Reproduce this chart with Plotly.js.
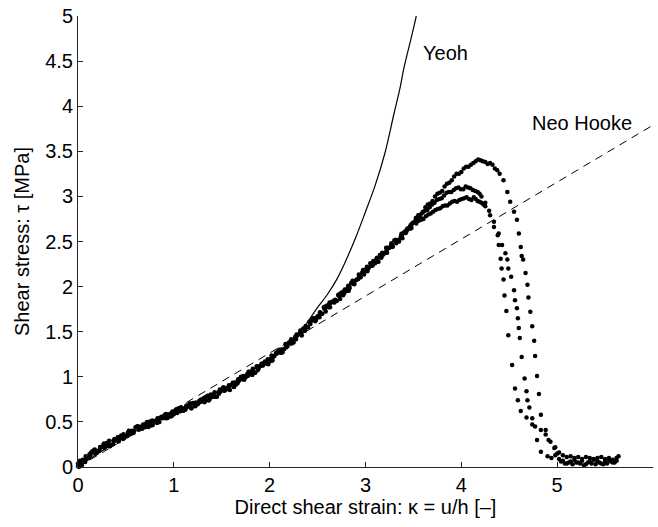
<!DOCTYPE html>
<html>
<head>
<meta charset="utf-8">
<script src="https://cdn.plot.ly/plotly-3.0.1.min.js"></script>
<style>html,body{margin:0;padding:0;background:#fff;}#chart{width:658px;height:527px;}</style>
</head>
<body>
<div id="chart"></div>
<script>
// Test 1 (highest peak)
var testA_kappa = [0.00,0.05,0.10,0.15,0.20,0.25,0.30,0.35,0.40,0.45,0.50,0.55,0.60,0.65,0.70,0.75,0.80,0.85,0.90,0.95,1.00,1.05,1.10,1.15,1.20,1.25,1.30,1.35,1.40,1.45,1.50,1.55,1.60,1.65,1.70,1.75,1.80,1.85,1.90,1.95,2.00,2.05,2.10,2.15,2.20,2.25,2.30,2.35,2.40,2.45,2.50,2.55,2.60,2.65,2.70,2.75,2.80,2.85,2.90,2.95,3.00,3.05,3.10,3.15,3.20,3.25,3.30,3.35,3.40,3.45,
  3.50,3.55,3.60,3.65,3.70,3.75,3.80,3.85,3.90,3.95,4.00,4.05,4.10,4.15,4.20,4.25,4.30,4.35,4.40,
  4.44,4.48,4.51,4.55,4.58,4.60,4.62,4.63,4.645,4.67,4.69,4.70,4.72,4.74,4.76,4.77,4.79,4.81,4.83,4.88,4.91,4.98,
  5.02,5.06,5.10,5.14,5.18,5.22,5.26,5.30,5.34,5.38,5.42,5.46,5.50,5.54,5.58,5.62,5.64,
  0.025,0.075,0.125,0.175,0.225,0.275,0.325,0.375,0.425,0.475,0.525,0.575,0.625,0.675,0.725,0.775,0.825,0.875,0.925,0.975,1.025,1.075,1.125,1.175,1.225,1.275,1.325,1.375,1.425,1.475,1.525,1.575,1.625,1.675,1.725,1.775,1.825,1.875,1.925,1.975,2.025,2.075,2.125,2.175,2.225,2.275,2.325,2.375,2.425,2.475,2.525,2.575,2.625,2.675,2.725,2.775,2.825,2.875,2.925,2.975,3.025,3.075,3.125,3.175,3.225,3.275,3.325,3.375,3.425,3.475,
  3.525,3.575,3.625,3.675,3.725,3.775,3.825,3.875,3.925,3.975,4.025,4.075,4.125,4.175,4.225,4.275,4.325,4.375];
var testA_tau = [0.01,0.08,0.10,0.175,0.16,0.225,0.265,0.245,0.30,0.35,0.345,0.365,0.44,0.445,0.44,0.505,0.505,0.50,0.57,0.585,0.585,0.65,0.625,0.67,0.71,0.695,0.75,0.79,0.775,0.78,0.86,0.87,0.91,0.915,1.00,0.995,1.06,1.045,1.12,1.17,1.17,1.23,1.30,1.305,1.38,1.38,1.47,1.535,1.55,1.65,1.67,1.70,1.79,1.83,1.84,1.935,1.95,2.04,2.07,2.105,2.19,2.26,2.26,2.35,2.37,2.43,2.51,2.50,2.60,2.65,
  2.71,2.79,2.83,2.91,2.95,3.03,3.06,3.14,3.18,3.25,3.27,3.33,3.35,3.39,3.40,3.38,3.37,3.31,3.25,
  3.18,3.05,2.94,2.83,2.74,2.59,2.44,2.34,2.30,2.15,2.02,1.88,1.72,1.56,1.40,1.23,1.01,0.81,0.58,0.41,0.30,0.22,
  0.16,0.13,0.11,0.12,0.10,0.11,0.09,0.11,0.10,0.08,0.10,0.11,0.09,0.10,0.08,0.10,0.12,
  0.05,0.055,0.138,0.193,0.188,0.21,0.29,0.288,0.285,0.363,0.38,0.378,0.453,0.438,0.473,0.515,0.488,0.55,0.583,0.565,0.608,0.663,0.648,0.70,0.673,0.738,0.75,0.753,0.828,0.835,0.845,0.905,0.888,0.953,1.008,1.013,1.088,1.073,1.14,1.17,1.18,1.27,1.303,1.328,1.415,1.415,1.488,1.563,1.585,1.615,1.715,1.755,1.825,1.825,1.893,1.948,1.955,2.06,2.088,2.183,2.205,2.235,2.315,2.375,2.375,2.465,2.495,2.585,2.61,2.68,
  2.76,2.80,2.88,2.92,3.00,3.04,3.11,3.15,3.22,3.25,3.31,3.33,3.37,3.41,3.39,3.36,3.35,3.29];

// Test 2 (middle peak)
var testB_kappa = [0.02,0.07,0.12,0.17,0.22,0.27,0.32,0.37,0.42,0.47,0.52,0.57,0.62,0.67,0.72,0.77,0.82,0.87,0.92,0.97,1.02,1.07,1.12,1.17,1.22,1.27,1.32,1.37,1.42,1.47,1.52,1.57,1.62,1.67,1.72,1.77,1.82,1.87,1.92,1.97,2.02,2.07,2.12,2.17,2.22,2.27,2.32,2.37,2.42,2.47,2.52,2.57,2.62,2.67,2.72,2.77,2.82,2.87,2.92,2.97,3.02,3.07,3.12,3.17,3.22,3.27,3.32,3.37,3.42,3.47,
  3.52,3.57,3.62,3.67,3.72,3.77,3.82,3.87,3.92,3.97,4.02,4.07,4.12,4.17,4.21,4.25,4.29,4.34,4.39,4.425,4.46,4.48,4.49,4.52,4.55,4.56,4.58,4.59,4.60,4.61,4.63,4.66,4.68,4.69,4.71,4.74,4.77,4.83,4.88,4.93,4.97,5.00,
  5.04,5.08,5.12,5.16,5.20,5.24,5.28,5.32,5.36,5.40,5.44,5.48,5.52,5.56,5.60,
  0.035,0.085,0.135,0.185,0.235,0.285,0.335,0.385,0.435,0.485,0.535,0.585,0.635,0.685,0.735,0.785,0.835,0.885,0.935,0.985,1.035,1.085,1.135,1.185,1.235,1.285,1.335,1.385,1.435,1.485,1.535,1.585,1.635,1.685,1.735,1.785,1.835,1.885,1.935,1.985,2.035,2.085,2.135,2.185,2.235,2.285,2.335,2.385,2.435,2.485,2.535,2.585,2.635,2.685,2.735,2.785,2.835,2.885,2.935,2.985,3.035,3.085,3.135,3.185,3.235,3.285,3.335,3.385,3.435,3.485,
  3.545,3.595,3.645,3.695,3.745,3.795,3.845,3.895,3.945,3.995,4.045,4.095,4.145,4.19];
var testB_tau = [0.03,0.06,0.14,0.16,0.18,0.26,0.24,0.295,0.33,0.31,0.38,0.395,0.44,0.425,0.50,0.483,0.515,0.558,0.54,0.593,0.635,0.62,0.635,0.698,0.70,0.735,0.718,0.79,0.805,0.812,0.882,0.862,0.914,0.969,0.974,1.029,1.024,1.109,1.126,1.146,1.236,1.256,1.268,1.333,1.40,1.42,1.512,1.517,1.60,1.64,1.66,1.76,1.80,1.83,1.908,1.913,2.01,2.034,2.082,2.167,2.17,2.26,2.32,2.34,2.40,2.48,2.48,2.56,2.594,2.68,
  2.73,2.78,2.84,2.88,2.93,2.97,3.01,3.05,3.07,3.10,3.08,3.10,3.07,3.05,3.00,2.93,2.84,2.72,2.59,2.46,2.37,2.30,2.20,2.11,1.96,1.85,1.76,1.65,1.54,1.43,1.22,0.98,0.84,0.74,0.66,0.54,0.45,0.41,0.36,0.28,0.21,0.15,
  0.06,0.04,0.05,0.03,0.05,0.04,0.02,0.05,0.04,0.03,0.05,0.03,0.04,0.06,0.05,
  0.02,0.095,0.158,0.153,0.218,0.23,0.23,0.308,0.325,0.323,0.40,0.398,0.413,0.468,0.443,0.505,0.538,0.54,0.543,0.615,0.598,0.643,0.678,0.65,0.703,0.748,0.74,0.803,0.778,0.835,0.855,0.855,0.938,0.963,0.968,1.053,1.048,1.093,1.15,1.14,1.22,1.28,1.273,1.338,1.395,1.455,1.458,1.553,1.625,1.635,1.695,1.725,1.815,1.855,1.863,1.968,1.985,2.03,2.118,2.133,2.215,2.285,2.275,2.355,2.425,2.445,2.515,2.535,2.64,2.70,
  2.75,2.82,2.85,2.91,2.96,2.98,3.04,3.05,3.09,3.08,3.11,3.09,3.06,3.03];

// Test 3 (lowest peak)
var testC_kappa = [0.00,0.01,0.02,0.04,0.03,0.08,0.13,0.18,0.23,0.28,0.33,0.38,0.43,0.48,0.53,0.58,0.63,0.68,0.73,0.78,0.83,0.88,0.93,0.98,1.03,1.08,1.13,1.18,1.23,1.28,1.33,1.38,1.43,1.48,1.53,1.58,1.63,1.68,1.73,1.78,1.83,1.88,1.93,1.98,2.03,2.08,2.13,2.18,2.23,2.28,2.33,2.38,2.43,2.48,2.53,2.58,2.63,2.68,2.73,2.78,2.83,2.88,2.93,2.98,3.03,3.08,3.13,3.18,3.23,3.28,3.33,3.38,3.43,3.48,
  3.53,3.58,3.63,3.68,3.73,3.78,3.83,3.88,3.93,3.98,4.03,4.08,4.13,4.17,4.21,4.25,4.30,4.34,4.38,4.39,4.41,4.42,4.44,4.45,4.47,4.49,4.53,4.56,4.59,4.62,4.68,4.74,4.79,4.83,4.90,
  4.94,4.98,5.02,5.06,5.10,5.14,5.18,5.22,5.26,5.30,5.34,5.38,5.42,5.46,5.50,5.54,5.58,5.62,
  0.015,0.065,0.115,0.165,0.215,0.265,0.315,0.365,0.415,0.465,0.515,0.565,0.615,0.665,0.715,0.765,0.815,0.865,0.915,0.965,1.015,1.065,1.115,1.165,1.215,1.265,1.315,1.365,1.415,1.465,1.515,1.565,1.615,1.665,1.715,1.765,1.815,1.865,1.915,1.965,2.015,2.065,2.115,2.165,2.215,2.265,2.315,2.365,2.415,2.465,2.515,2.565,2.615,2.665,2.715,2.765,2.815,2.865,2.915,2.965,3.015,3.065,3.115,3.165,3.215,3.265,3.315,3.365,3.415,3.465,
  3.555,3.605,3.655,3.705,3.755,3.805,3.855,3.905,3.955,4.005,4.055,4.105,4.15,4.19,4.23];
var testC_tau = [0.04,0.00,0.07,0.02,0.026,0.12,0.131,0.146,0.221,0.243,0.233,0.31,0.308,0.345,0.403,0.38,0.435,0.47,0.465,0.467,0.54,0.542,0.575,0.567,0.64,0.635,0.68,0.652,0.715,0.72,0.772,0.775,0.78,0.858,0.848,0.898,0.891,0.976,0.991,1.056,1.041,1.106,1.124,1.194,1.184,1.264,1.297,1.362,1.37,1.47,1.483,1.548,1.62,1.63,1.71,1.78,1.77,1.85,1.917,1.932,2.00,2.026,2.133,2.158,2.20,2.28,2.28,2.37,2.43,2.44,2.51,2.57,2.62,2.65,
  2.70,2.74,2.78,2.81,2.85,2.87,2.90,2.92,2.95,2.96,2.98,2.97,2.99,2.95,2.93,2.89,2.79,2.66,2.57,2.46,2.31,2.20,2.08,1.90,1.73,1.46,1.13,0.87,0.74,0.62,0.55,0.47,0.30,0.17,0.12,
  0.10,0.13,0.09,0.07,0.04,0.06,0.08,0.05,0.07,0.03,0.06,0.09,0.06,0.04,0.07,0.08,0.05,0.07,
  0.028,0.075,0.10,0.185,0.18,0.245,0.265,0.253,0.33,0.338,0.345,0.403,0.448,0.433,0.488,0.46,0.513,0.545,0.588,0.56,0.623,0.618,0.653,0.705,0.678,0.733,0.765,0.738,0.793,0.83,0.88,0.87,0.933,0.928,0.983,1.028,1.023,1.118,1.145,1.155,1.205,1.265,1.268,1.363,1.37,1.44,1.483,1.508,1.61,1.65,1.68,1.77,1.77,1.84,1.908,1.903,1.99,2.065,2.083,2.148,2.22,2.23,2.31,2.32,2.43,2.45,2.52,2.54,2.615,2.64,
  2.73,2.75,2.80,2.83,2.86,2.89,2.90,2.94,2.94,2.97,2.99,2.96,2.97,2.94,2.91];

// Yeoh model curve
var yeoh_kappa = [0.0,0.5,1.0,1.5,2.0,2.2,2.36,2.48,2.6,2.7,2.8,2.9,3.0,3.1,3.2,3.3,3.36,3.4,3.45,3.5,3.53];
var yeoh_tau   = [0.0,0.34,0.60,0.86,1.20,1.37,1.555,1.74,1.91,2.08,2.30,2.55,2.83,3.12,3.47,3.93,4.20,4.42,4.64,4.86,5.0];

// Neo Hooke model line
var neo_kappa = [0, 6];
var neo_tau   = [0, 3.79];

var labels = [
  {text: "Yeoh", kappa: 3.833, tau: 4.593},
  {text: "Neo Hooke", kappa: 5.264, tau: 3.814}
];

var xTickVals = [0,1,2,3,4,5,6];
var yTickVals = [0,0.5,1,1.5,2,2.5,3,3.5,4,4.5,5];

var FONT = "Liberation Sans, Arial, Helvetica, sans-serif";
var dotMarker = {color: "#000", size: 4.5, symbol: "circle"};

var traces = [
  {x: neo_kappa, y: neo_tau, mode: "lines", line: {color: "#000", width: 1, dash: "8px,6px"}, hoverinfo: "skip"},
  {x: yeoh_kappa, y: yeoh_tau, mode: "lines", line: {color: "#000", width: 1.2, shape: "spline", smoothing: 1}, hoverinfo: "skip"},
  {x: testA_kappa, y: testA_tau, mode: "markers", marker: dotMarker, cliponaxis: false},
  {x: testB_kappa, y: testB_tau, mode: "markers", marker: dotMarker, cliponaxis: false},
  {x: testC_kappa, y: testC_tau, mode: "markers", marker: dotMarker, cliponaxis: false}
];

var layout = {
  width: 658, height: 527,
  margin: {l: 78, r: 5, t: 16, b: 60, pad: 0},
  paper_bgcolor: "#fff", plot_bgcolor: "#fff",
  showlegend: false,
  font: {family: FONT, size: 20, color: "#000"},
  xaxis: {
    range: [0, 6], tickvals: xTickVals, ticks: "inside", ticklen: 5, tickcolor: "#262626",
    showline: true, linecolor: "#262626", linewidth: 1, mirror: false, showgrid: false, zeroline: false,
    tickfont: {family: FONT, size: 20, color: "#000"},
    title: {text: "Direct shear strain: κ = u/h [–]", font: {family: FONT, size: 20, color: "#000"}, standoff: 4},
    automargin: false
  },
  yaxis: {
    range: [0, 5], tickvals: yTickVals, ticks: "inside", ticklen: 5, tickcolor: "#262626",
    showline: true, linecolor: "#262626", linewidth: 1, mirror: false, showgrid: false, zeroline: false,
    tickfont: {family: FONT, size: 20, color: "#000"},
    title: {text: "Shear stress: τ [MPa]", font: {family: FONT, size: 20, color: "#000"}, standoff: 10},
    automargin: false
  },
  annotations: labels.map(function (l) {
    return {x: l.kappa, y: l.tau, xref: "x", yref: "y", text: l.text, showarrow: false,
            font: {family: FONT, size: 20, color: "#000"}, xanchor: "center", yanchor: "middle"};
  })
};

Plotly.newPlot("chart", traces, layout, {staticPlot: true, displayModeBar: false});
</script>
</body>
</html>
